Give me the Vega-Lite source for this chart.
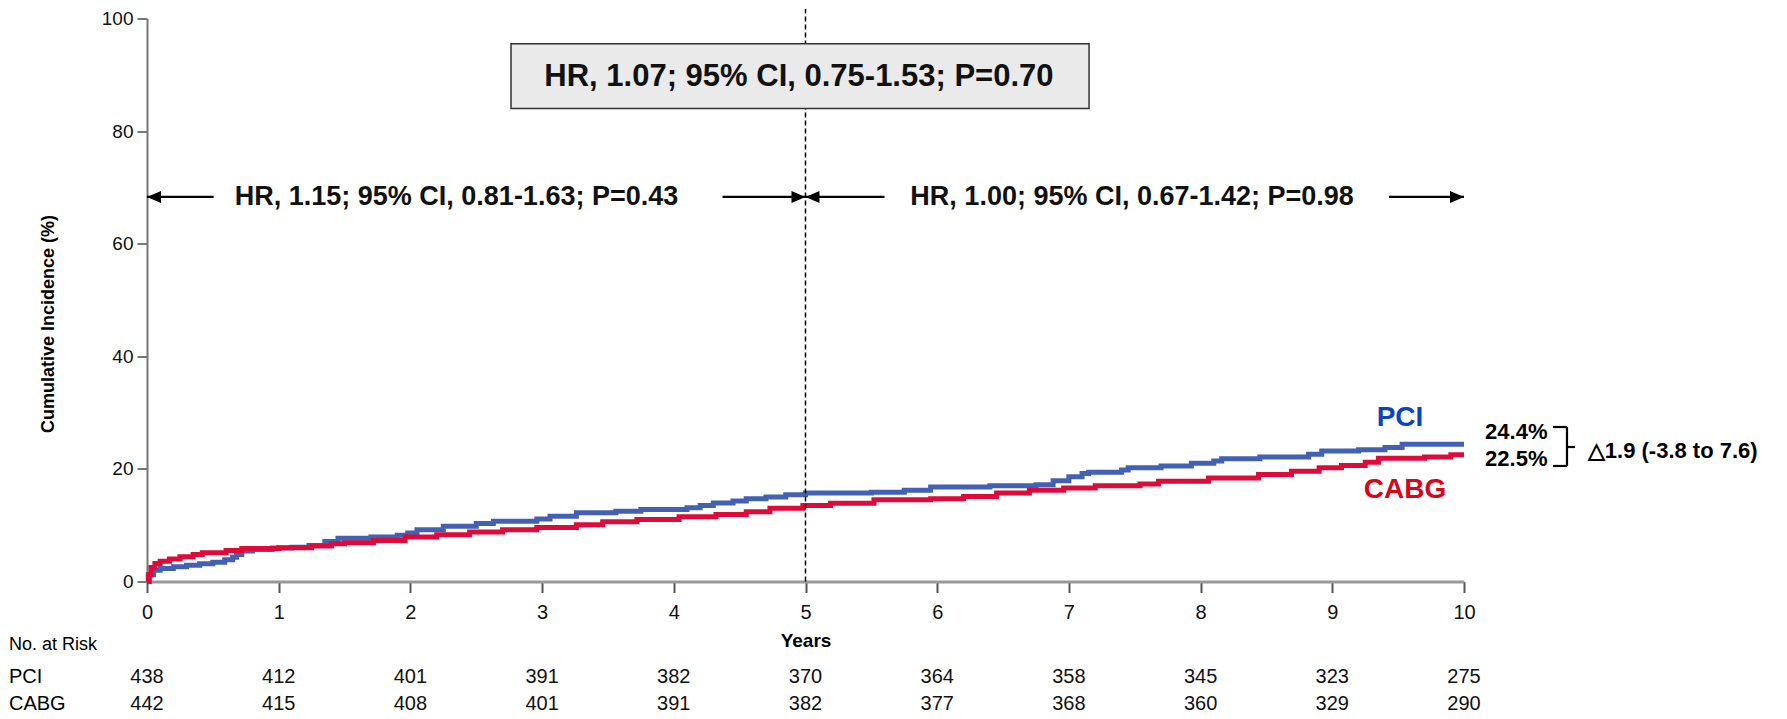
{
  "$schema": "https://vega.github.io/schema/vega-lite/v6.json",
  "width": 1317,
  "height": 563,
  "autosize": {"type": "none"},
  "padding": {"left": 147, "top": 18.5, "right": 323, "bottom": 137.5},
  "background": "white",
  "config": {"view": {"stroke": null}, "font": "Liberation Sans"},
  "datasets": {
    "curves": [
      {"g":"PCI","t":0,"v":0},{"g":"PCI","t":0.02,"v":1.2},{"g":"PCI","t":0.05,"v":2.0},{"g":"PCI","t":0.1,"v":2.3},{"g":"PCI","t":0.2,"v":2.6},{"g":"PCI","t":0.3,"v":2.9},{"g":"PCI","t":0.4,"v":3.15},{"g":"PCI","t":0.5,"v":3.4},{"g":"PCI","t":0.59,"v":3.85},{"g":"PCI","t":0.65,"v":4.3},{"g":"PCI","t":0.68,"v":4.8},{"g":"PCI","t":0.72,"v":5.4},{"g":"PCI","t":0.8,"v":5.7},{"g":"PCI","t":0.95,"v":5.95},{"g":"PCI","t":1.1,"v":6.1},{"g":"PCI","t":1.23,"v":6.4},{"g":"PCI","t":1.35,"v":7.1},{"g":"PCI","t":1.45,"v":7.7},{"g":"PCI","t":1.7,"v":7.9},{"g":"PCI","t":1.9,"v":8.2},{"g":"PCI","t":1.98,"v":8.6},{"g":"PCI","t":2.05,"v":9.2},{"g":"PCI","t":2.25,"v":9.8},{"g":"PCI","t":2.5,"v":10.3},{"g":"PCI","t":2.63,"v":10.7},{"g":"PCI","t":2.96,"v":11.1},{"g":"PCI","t":3.06,"v":11.6},{"g":"PCI","t":3.26,"v":12.2},{"g":"PCI","t":3.56,"v":12.5},{"g":"PCI","t":3.75,"v":12.8},{"g":"PCI","t":4.1,"v":13.1},{"g":"PCI","t":4.2,"v":13.5},{"g":"PCI","t":4.3,"v":13.95},{"g":"PCI","t":4.45,"v":14.3},{"g":"PCI","t":4.55,"v":14.7},{"g":"PCI","t":4.7,"v":15.0},{"g":"PCI","t":4.85,"v":15.4},{"g":"PCI","t":5.0,"v":15.7},{"g":"PCI","t":5.5,"v":15.85},{"g":"PCI","t":5.75,"v":16.2},{"g":"PCI","t":5.95,"v":16.8},{"g":"PCI","t":6.4,"v":17.0},{"g":"PCI","t":6.75,"v":17.2},{"g":"PCI","t":6.88,"v":17.9},{"g":"PCI","t":7.0,"v":18.6},{"g":"PCI","t":7.1,"v":19.2},{"g":"PCI","t":7.15,"v":19.4},{"g":"PCI","t":7.4,"v":19.8},{"g":"PCI","t":7.45,"v":20.2},{"g":"PCI","t":7.7,"v":20.5},{"g":"PCI","t":7.93,"v":21.0},{"g":"PCI","t":8.1,"v":21.4},{"g":"PCI","t":8.16,"v":21.8},{"g":"PCI","t":8.45,"v":22.1},{"g":"PCI","t":8.82,"v":22.6},{"g":"PCI","t":8.92,"v":23.2},{"g":"PCI","t":9.2,"v":23.4},{"g":"PCI","t":9.4,"v":23.8},{"g":"PCI","t":9.53,"v":24.4},{"g":"PCI","t":10.0,"v":24.4},
      {"g":"CABG","t":0,"v":0},{"g":"CABG","t":0.01,"v":1.2},{"g":"CABG","t":0.03,"v":2.5},{"g":"CABG","t":0.06,"v":3.2},{"g":"CABG","t":0.1,"v":3.6},{"g":"CABG","t":0.17,"v":4.0},{"g":"CABG","t":0.25,"v":4.4},{"g":"CABG","t":0.35,"v":4.8},{"g":"CABG","t":0.42,"v":5.1},{"g":"CABG","t":0.6,"v":5.5},{"g":"CABG","t":0.72,"v":5.85},{"g":"CABG","t":1.0,"v":6.0},{"g":"CABG","t":1.25,"v":6.3},{"g":"CABG","t":1.4,"v":6.7},{"g":"CABG","t":1.5,"v":6.9},{"g":"CABG","t":1.72,"v":7.3},{"g":"CABG","t":1.96,"v":7.9},{"g":"CABG","t":2.2,"v":8.3},{"g":"CABG","t":2.45,"v":8.8},{"g":"CABG","t":2.7,"v":9.2},{"g":"CABG","t":2.96,"v":9.6},{"g":"CABG","t":3.26,"v":10.1},{"g":"CABG","t":3.46,"v":10.6},{"g":"CABG","t":3.72,"v":11.0},{"g":"CABG","t":4.04,"v":11.5},{"g":"CABG","t":4.32,"v":11.9},{"g":"CABG","t":4.55,"v":12.4},{"g":"CABG","t":4.73,"v":13.0},{"g":"CABG","t":4.98,"v":13.5},{"g":"CABG","t":5.19,"v":13.9},{"g":"CABG","t":5.52,"v":14.5},{"g":"CABG","t":5.95,"v":14.7},{"g":"CABG","t":6.2,"v":15.1},{"g":"CABG","t":6.45,"v":15.7},{"g":"CABG","t":6.7,"v":16.2},{"g":"CABG","t":6.96,"v":16.6},{"g":"CABG","t":7.2,"v":17.0},{"g":"CABG","t":7.54,"v":17.3},{"g":"CABG","t":7.68,"v":17.8},{"g":"CABG","t":8.06,"v":18.4},{"g":"CABG","t":8.44,"v":19.0},{"g":"CABG","t":8.69,"v":19.6},{"g":"CABG","t":8.9,"v":20.2},{"g":"CABG","t":9.07,"v":20.6},{"g":"CABG","t":9.25,"v":21.2},{"g":"CABG","t":9.35,"v":21.9},{"g":"CABG","t":9.7,"v":22.1},{"g":"CABG","t":9.9,"v":22.5},{"g":"CABG","t":10.0,"v":22.5}
    ],
    "risk": [
      {"g":"PCI","t":0,"n":438},{"g":"PCI","t":1,"n":412},{"g":"PCI","t":2,"n":401},{"g":"PCI","t":3,"n":391},{"g":"PCI","t":4,"n":382},{"g":"PCI","t":5,"n":370},{"g":"PCI","t":6,"n":364},{"g":"PCI","t":7,"n":358},{"g":"PCI","t":8,"n":345},{"g":"PCI","t":9,"n":323},{"g":"PCI","t":10,"n":275},
      {"g":"CABG","t":0,"n":442},{"g":"CABG","t":1,"n":415},{"g":"CABG","t":2,"n":408},{"g":"CABG","t":3,"n":401},{"g":"CABG","t":4,"n":391},{"g":"CABG","t":5,"n":382},{"g":"CABG","t":6,"n":377},{"g":"CABG","t":7,"n":368},{"g":"CABG","t":8,"n":360},{"g":"CABG","t":9,"n":329},{"g":"CABG","t":10,"n":290}
    ],
    "segs": [
      {"x":0,"x2":0.506,"y":68.3,"y2":68.3},
      {"x":4.37,"x2":5,"y":68.3,"y2":68.3},
      {"x":5,"x2":5.6,"y":68.3,"y2":68.3},
      {"x":9.43,"x2":10,"y":68.3,"y2":68.3},
      {"x":10.676,"x2":10.782,"y":27.44,"y2":27.44},
      {"x":10.782,"x2":10.782,"y":27.44,"y2":20.52},
      {"x":10.676,"x2":10.782,"y":20.52,"y2":20.52},
      {"x":10.782,"x2":10.843,"y":23.89,"y2":23.89}
    ],
    "heads": [
      {"x":0,"y":68.3,"dir":"L"},{"x":5,"y":68.3,"dir":"R"},{"x":5,"y":68.3,"dir":"L"},{"x":10,"y":68.3,"dir":"R"}
    ],
    "hrs": [
      {"x":2.35,"y":68.3,"text":"HR, 1.15; 95% CI, 0.81-1.63; P=0.43"},
      {"x":7.48,"y":68.3,"text":"HR, 1.00; 95% CI, 0.67-1.42; P=0.98"}
    ],
    "box": [{"x":2.764,"x2":7.153,"y":84.0,"y2":95.5,"tx":4.95,"ty":89.6,"text":"HR, 1.07; 95% CI, 0.75-1.53; P=0.70"}],
    "grp": [{"g":"PCI","x":9.514,"y":29.04},{"g":"CABG","x":9.552,"y":16.25}],
    "pct": [{"x":10.16,"y":26.47,"text":"24.4%"},{"x":10.16,"y":21.67,"text":"22.5%"},{"x":10.94,"y":23.18,"text":"△1.9 (-3.8 to 7.6)"}],
    "rowlab": [{"x":-1.048,"y":-11.28,"text":"No. at Risk","s":"h"},{"x":-1.048,"y":-16.96,"text":"PCI","s":"r"},{"x":-1.048,"y":-21.76,"text":"CABG","s":"r"}]
  },
  "layer": [
    {
      "data": {"name": "curves"},
      "transform": [{"filter": "datum.g === 'PCI'"}],
      "mark": {"type": "line", "interpolate": "step-after", "strokeWidth": 5, "color": "#4361B2"},
      "encoding": {
        "x": {"field": "t", "type": "quantitative", "scale": {"domain": [0, 10], "nice": false},
          "axis": {"values": [0,1,2,3,4,5,6,7,8,9,10], "format": "d", "grid": false, "title": "Years", "titleFontSize": 19, "titleFontWeight": "bold", "titleColor": "#000",
            "titleY": 59, "titleBaseline": "middle", "titleX": 658.5,
            "tickSize": 11, "tickWidth": 2, "tickColor": "#555", "domainColor": "#999", "domainWidth": 3,
            "labelFontSize": 20, "labelColor": "#111", "labelPadding": 10, "labelFlush": false}},
        "y": {"field": "v", "type": "quantitative", "scale": {"domain": [0, 100], "nice": false},
          "axis": {"values": [0,20,40,60,80,100], "format": "d", "grid": false, "title": "Cumulative Incidence (%)", "titleFontSize": 18, "titleFontWeight": "bold", "titleColor": "#000",
            "titleAngle": -90, "titleX": -99, "titleY": 305, "titleAlign": "center", "titleBaseline": "middle",
            "tickSize": 10, "tickWidth": 2, "tickColor": "#777", "domainColor": "#777", "domainWidth": 2,
            "labelFontSize": 19, "labelColor": "#111", "labelPadding": 4}}
      }
    },
    {
      "data": {"name": "curves"},
      "transform": [{"filter": "datum.g === 'CABG'"}],
      "mark": {"type": "line", "interpolate": "step-after", "strokeWidth": 5, "color": "#DE0A3A"},
      "encoding": {
        "x": {"field": "t", "type": "quantitative"},
        "y": {"field": "v", "type": "quantitative"}
      }
    },
    {
      "data": {"values": [{"x": 5, "y": 0, "y2": 101.7}]},
      "mark": {"type": "rule", "strokeDash": [5, 3], "strokeWidth": 1.5, "color": "#000"},
      "encoding": {
        "x": {"field": "x", "type": "quantitative"},
        "y": {"field": "y", "type": "quantitative"},
        "y2": {"field": "y2"}
      }
    },
    {
      "data": {"name": "box"},
      "mark": {"type": "rect", "fill": "#EAEAEA", "stroke": "#333", "strokeWidth": 1.5},
      "encoding": {
        "x": {"field": "x", "type": "quantitative"}, "x2": {"field": "x2"},
        "y": {"field": "y", "type": "quantitative"}, "y2": {"field": "y2"}
      }
    },
    {
      "data": {"name": "box"},
      "mark": {"type": "text", "fontSize": 31, "fontWeight": "bold", "color": "#111", "align": "center", "baseline": "middle"},
      "encoding": {
        "x": {"field": "tx", "type": "quantitative"},
        "y": {"field": "ty", "type": "quantitative"},
        "text": {"field": "text"}
      }
    },
    {
      "data": {"name": "segs"},
      "mark": {"type": "rule", "strokeWidth": 2.2, "color": "#000"},
      "encoding": {
        "x": {"field": "x", "type": "quantitative"}, "x2": {"field": "x2"},
        "y": {"field": "y", "type": "quantitative"}, "y2": {"field": "y2"}
      }
    },
    {
      "data": {"name": "heads"},
      "mark": {"type": "point", "filled": true, "color": "#000", "opacity": 1, "size": 196},
      "encoding": {
        "x": {"field": "x", "type": "quantitative"},
        "y": {"field": "y", "type": "quantitative"},
        "shape": {"field": "dir", "type": "nominal", "legend": null,
          "scale": {"domain": ["L", "R"], "range": ["M0,0L2,-0.85L2,0.85Z", "M0,0L-2,-0.85L-2,0.85Z"]}}
      }
    },
    {
      "data": {"name": "hrs"},
      "mark": {"type": "text", "fontSize": 27, "fontWeight": "bold", "color": "#111", "align": "center", "baseline": "middle"},
      "encoding": {
        "x": {"field": "x", "type": "quantitative"},
        "y": {"field": "y", "type": "quantitative"},
        "text": {"field": "text"}
      }
    },
    {
      "data": {"name": "grp"},
      "mark": {"type": "text", "fontSize": 28, "fontWeight": "bold", "align": "center", "baseline": "middle"},
      "encoding": {
        "x": {"field": "x", "type": "quantitative"},
        "y": {"field": "y", "type": "quantitative"},
        "text": {"field": "g"},
        "color": {"field": "g", "type": "nominal", "legend": null, "scale": {"domain": ["PCI", "CABG"], "range": ["#0B45BD", "#D7061B"]}}
      }
    },
    {
      "data": {"name": "pct"},
      "mark": {"type": "text", "fontSize": 22, "fontWeight": "bold", "color": "#000", "align": "left", "baseline": "middle"},
      "encoding": {
        "x": {"field": "x", "type": "quantitative"},
        "y": {"field": "y", "type": "quantitative"},
        "text": {"field": "text"}
      }
    },
    {
      "data": {"name": "rowlab"},
      "transform": [{"filter": "datum.s === 'h'"}],
      "mark": {"type": "text", "fontSize": 18, "color": "#000", "align": "left", "baseline": "middle"},
      "encoding": {
        "x": {"field": "x", "type": "quantitative"},
        "y": {"field": "y", "type": "quantitative"},
        "text": {"field": "text"}
      }
    },
    {
      "data": {"name": "rowlab"},
      "transform": [{"filter": "datum.s === 'r'"}],
      "mark": {"type": "text", "fontSize": 20, "color": "#000", "align": "left", "baseline": "middle"},
      "encoding": {
        "x": {"field": "x", "type": "quantitative"},
        "y": {"field": "y", "type": "quantitative"},
        "text": {"field": "text"}
      }
    },
    {
      "data": {"name": "risk"},
      "transform": [{"filter": "datum.g === 'PCI'"}],
      "mark": {"type": "text", "fontSize": 20, "color": "#111", "align": "center", "baseline": "middle"},
      "encoding": {
        "x": {"field": "t", "type": "quantitative"},
        "y": {"datum": -16.96, "type": "quantitative"},
        "text": {"field": "n"}
      }
    },
    {
      "data": {"name": "risk"},
      "transform": [{"filter": "datum.g === 'CABG'"}],
      "mark": {"type": "text", "fontSize": 20, "color": "#111", "align": "center", "baseline": "middle"},
      "encoding": {
        "x": {"field": "t", "type": "quantitative"},
        "y": {"datum": -21.76, "type": "quantitative"},
        "text": {"field": "n"}
      }
    }
  ]
}
